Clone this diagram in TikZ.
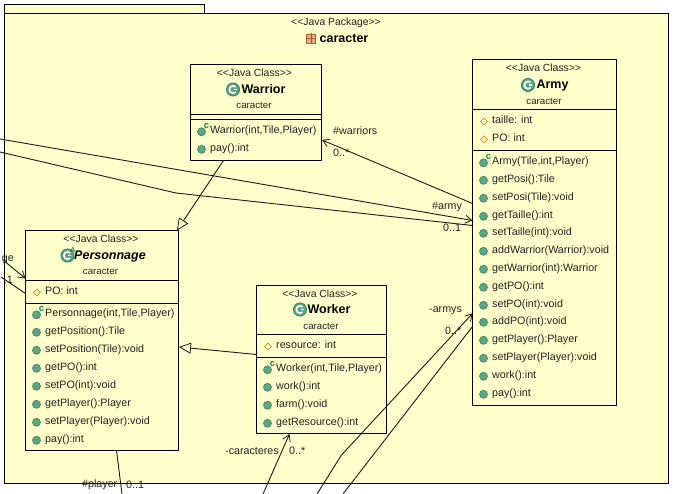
\documentclass[tikz,border=0pt]{standalone}
\usepackage{fontspec}
\setmainfont{Liberation Sans}
\usetikzlibrary{arrows.meta,calc,shapes.geometric}
\definecolor{pkgbg}{HTML}{FFFFCC}
\definecolor{txt}{HTML}{222222}
\definecolor{icong}{HTML}{5FA583}
\definecolor{icongd}{HTML}{3E8A68}
\definecolor{ctor}{HTML}{0A8A4A}
\definecolor{attr}{HTML}{D08A1A}
\definecolor{pkgi}{HTML}{B5562A}
\newcounter{mm}
\newcommand\stereo[1]{<{}<Java #1>{}>}
\tikzset{
  classbox/.style={draw=black,line width=1pt,fill=pkgbg,anchor=north west,inner sep=0pt,outer sep=0pt},
  sep/.style={draw=black,line width=1pt},
  memtext/.style={anchor=base west,inner sep=0pt,text=txt,font=\fontsize{10.7}{12}\selectfont},
  centertext/.style={anchor=base,inner sep=0pt,text=txt,font=\fontsize{10.4}{12}\selectfont},
  pkgtext/.style={anchor=base,inner sep=0pt,text=txt,font=\fontsize{9.7}{12}\selectfont},
  nametext/.style={anchor=base,inner sep=0pt,text=black,font=\fontsize{12.5}{14}\selectfont\bfseries},
  lbl/.style={anchor=base west,inner sep=0pt,text=txt,font=\fontsize{10.7}{12}\selectfont},
  memicon/.style={circle,fill=icong,draw=icongd,line width=.7pt,minimum size=8pt,inner sep=0pt},
  attricon/.style={diamond,draw=attr,line width=.7pt,minimum size=7pt,inner sep=0pt},
  ctormark/.style={inner sep=0pt,text=ctor,font=\fontsize{9.5}{10}\selectfont\bfseries},
  cicon/.style={circle,fill=icong,draw=icongd,line width=1pt,minimum size=13pt,inner sep=0pt},
  assoc/.style={draw=txt!80!black,line width=.9pt},
  assocarrow/.style={assoc,-{Straight Barb[length=6.5pt,width=8pt,line width=.8pt]}},
  inherit/.style={assoc,-{Triangle[open,fill=pkgbg,length=12pt,width=11pt,line width=.8pt]}},
}
\newcommand\meth[3]{\stepcounter{mm}%
  \node[memicon] (icon\themm) at (#1-8.5,#2+1.3) {};
  \node[memtext] (text\themm) at (#1,#2+3.7) {#3};}
\newcommand\ctormeth[3]{\stepcounter{mm}%
  \node[memicon] (icon\themm) at (#1-8.5,#2+1.8) {};
  \node[ctormark] (mark\themm) at (#1-3.5,#2-4) {c};
  \node[memtext] (text\themm) at (#1,#2+3.7) {#3};}
\newcommand\attrib[3]{\stepcounter{mm}%
  \node[attricon] (icon\themm) at (#1-8,#2+1.5) {};
  \node[memtext] (text\themm) at (#1,#2+3.7) {#3};}
\newcommand\ccircle[2]{\stepcounter{mm}%
  \node[cicon] (cicon\themm) at (#1,#2) {};
  \draw[white,line width=1.6pt] (#1+2.6,#2-2.6) arc[start angle=-45,end angle=-315,radius=3.7];
  \draw[white,line width=1.4pt] (#1+.5,#2) -- (#1+3.8,#2);}
\begin{document}
\begin{tikzpicture}[x=1pt,y=-1pt]
\useasboundingbox (0,0) rectangle (673,494);
% package
\path[draw=black,line width=1pt,fill=pkgbg] (4.5,4.5) rectangle (204.5,13.5);
\path[draw=black,line width=1pt,fill=pkgbg] (4.5,13.5) rectangle (668.5,483.5);
\node[centertext] (pkgstereo) at (336,26) {\stereo{Package}};
\node[nametext] (pkgname) at (344,42.5) {caracter};
\node[draw=pkgi,fill=pkgi!45!pkgbg,line width=.8pt,minimum size=9pt,inner sep=0pt] (pkgicon) at (311,38.5) {};
\draw[pkgi,line width=.7pt] (306,38.5) -- (316,38.5) (311,33) -- (311,44);
% classes
\node[classbox,minimum width=131pt,minimum height=96pt] (warrior) at (190.5,64.5) {};
\node[classbox,minimum width=153pt,minimum height=220pt] (personnage) at (25.5,230.5) {};
\node[classbox,minimum width=130pt,minimum height=148pt] (worker) at (256.5,285.5) {};
\node[classbox,minimum width=144pt,minimum height=346pt] (army) at (472.5,59.5) {};
\draw[sep] (190.5,114.5) -- (321.5,114.5) (190.5,119.5) -- (321.5,119.5);
\draw[sep] (25.5,280.5) -- (178.5,280.5) (25.5,303.5) -- (178.5,303.5);
\draw[sep] (256.5,334.5) -- (386.5,334.5) (256.5,357.5) -- (386.5,357.5);
\draw[sep] (472.5,109.5) -- (616.5,109.5) (472.5,150.5) -- (616.5,150.5);
% free ends
\coordinate (leftA) at (0,139);
\coordinate (leftB) at (0,152);
\coordinate (bendB) at (176,193);
\coordinate (leftC) at (3,260);
\coordinate (leftD) at (1,277);
\coordinate (botP) at (122,494);
\coordinate (botW) at (263,494);
\coordinate (botA) at (317,494);
\coordinate (bendA) at (341.5,455);
\coordinate (botB) at (343,494);
% connectors
\draw[inherit] ($(warrior.south west)+(33,0)$) -- ($(personnage.north east)+(-1.5,0)$);
\draw[inherit] ($(worker.north west)+(0,69)$) -- ($(personnage.north east)+(0.5,116.5)$);
\draw[assocarrow] ($(army.north west)+(0,144)$) -- ($(warrior.north east)+(0.5,75.5)$);
\draw[assocarrow] (leftA) -- ($(army.north west)+(0,161)$);
\draw[assoc] (leftB) -- (bendB) -- ($(army.north west)+(0,166)$);
\draw[assocarrow] (leftC) -- ($(personnage.north west)+(0,48)$);
\draw[assoc] (leftD) -- ($(personnage.north west)+(0,63)$);
\draw[assoc] ($(personnage.south west)+(91,0)$) -- (botP);
\draw[assocarrow] (botW) -- ($(worker.south west)+(33,0.5)$);
\draw[assocarrow] (botA) -- (bendA) -- ($(army.north west)+(0,254)$);
\draw[assoc] (botB) -- ($(army.north west)+(0,267)$);
% Warrior
\node[centertext] (ws) at (254.5,77) {\stereo{Class}};
\ccircle{233}{89.5}
\node[nametext] (wn) at (263.5,93.5) {Warrior};
\node[pkgtext] (wp) at (254,109) {caracter};
\ctormeth{210}{130}{Warrior(int,Tile,Player)}
\meth{210}{148}{pay():int}
% Personnage
\node[centertext] (ps) at (101,243) {\stereo{Class}};
\ccircle{67.5}{255.5}
\node[ctormark,font=\fontsize{7}{8}\selectfont\bfseries] (pa) at (73,250) {A};
\node[nametext,font=\fontsize{12.5}{14}\selectfont\bfseries\itshape] (pn) at (110,259.5) {Personnage};
\node[pkgtext] (pp) at (100.5,275) {caracter};
\attrib{45}{291}{PO: int}
\ctormeth{45}{313}{Personnage(int,Tile,Player)}
\meth{45}{331}{getPosition():Tile}
\meth{45}{349}{setPosition(Tile):void}
\meth{45}{367}{getPO():int}
\meth{45}{385}{setPO(int):void}
\meth{45}{403}{getPlayer():Player}
\meth{45}{421}{setPlayer(Player):void}
\meth{45}{439}{pay():int}
% Worker
\node[centertext] (os) at (320,298) {\stereo{Class}};
\ccircle{300}{309.5}
\node[nametext] (on) at (329,314) {Worker};
\node[pkgtext] (op) at (321,329.5) {caracter};
\attrib{276}{345}{resource: int}
\ctormeth{276}{368}{Worker(int,Tile,Player)}
\meth{276}{386}{work():int}
\meth{276}{404}{farm():void}
\meth{276}{422}{getResource():int}
% Army
\node[centertext] (as) at (543.5,72) {\stereo{Class}};
\ccircle{528}{85}
\node[nametext] (an) at (552.5,89) {Army};
\node[pkgtext] (ap) at (544,104.5) {caracter};
\attrib{492}{120}{taille: int}
\attrib{492}{138}{PO: int}
\ctormeth{492}{161}{Army(Tile,int,Player)}
\meth{492}{179}{getPosi():Tile}
\meth{492}{197}{setPosi(Tile):void}
\meth{492}{215}{getTaille():int}
\meth{492}{232}{setTaille(int):void}
\meth{492}{250}{addWarrior(Warrior):void}
\meth{492}{268}{getWarrior(int):Warrior}
\meth{492}{286}{getPO():int}
\meth{492}{304}{setPO(int):void}
\meth{492}{321}{addPO(int):void}
\meth{492}{339}{getPlayer():Player}
\meth{492}{357}{setPlayer(Player):void}
\meth{492}{375}{work():int}
\meth{492}{393}{pay():int}
% labels
\node[lbl] (l1) at (333,135) {\#warriors};
\node[lbl] (l2) at (333,157) {0..*};
\node[lbl] (l3) at (432,210) {\#army};
\node[lbl] (l4) at (443,232) {0..1};
\node[lbl] (l5) at (429,313) {-armys};
\node[lbl] (l6) at (445,335) {0..*};
\node[lbl] (l7) at (225,455) {-caracteres};
\node[lbl] (l8) at (289,455) {0..*};
\node[lbl] (l9) at (82,488) {\#player};
\node[lbl] (l10) at (126,489) {0..1};
\node[lbl,anchor=base east] (l11) at (14,262) {ge};
\node[lbl,anchor=base east] (l12) at (13,284) {.1};
\end{tikzpicture}
\end{document}
